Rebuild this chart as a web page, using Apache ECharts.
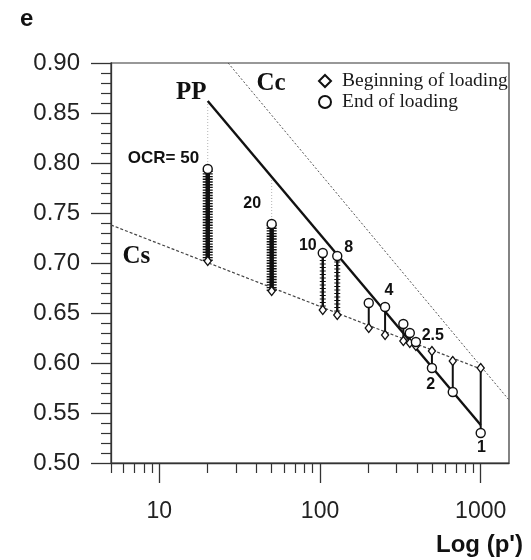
<!DOCTYPE html>
<html><head><meta charset="utf-8">
<script src="https://cdn.jsdelivr.net/npm/echarts@6/dist/echarts.min.js"></script>
<style>html,body{margin:0;padding:0;background:#fff}#c{width:531px;height:560px}</style>
</head><body><div id="c"></div>
<script>
// ---- data ----
const xTickLabels = [10, 100, 1000];
const xMinorTicks = [5, 6, 7, 8, 9, 20, 30, 40, 50, 60, 70, 80, 90, 200, 300, 400, 500, 600, 700, 800, 900];
const yTickLabels = [0.50, 0.55, 0.60, 0.65, 0.70, 0.75, 0.80, 0.85, 0.90];
const xRange = [5, 1500];
const yRange = [0.50, 0.90];

// OCR tests: p' at loading, void ratio at beginning / end of loading
const pressure     = [20,    50,    104,   128,   201,   254,   330,   362,   395,   497,   670,   1000];
const beginLoading = [0.702, 0.672, 0.653, 0.648, 0.635, 0.628, 0.622, 0.620, 0.617, 0.612, 0.602, 0.595];
const endLoading   = [0.794, 0.739, 0.710, 0.707, 0.660, 0.656, 0.639, 0.630, 0.621, 0.595, 0.571, 0.530];
const creepStyle   = ['heavy','heavy','medium','medium','plain','plain','plain','plain','plain','plain','plain','plain'];

// reference lines
const ppLineP = [20, 1000];      const ppLineE = [0.862, 0.538];
const ccLineP = [26.8, 1500];    const ccLineE = [0.900, 0.563];
const csLineP = [5, 1000];       const csLineE = [0.738, 0.594];
const guideP = [20, 50];         const guideTop = [0.862, 0.786];

// text annotations [p', e, text, kind]
const annotations = [
  [15.8, 0.870, 'PP', 'serif'],
  [49.6, 0.879, 'Cc', 'serif'],
  [7.2, 0.706, 'Cs', 'serif'],
  [10.6, 0.805, 'OCR= 50', 'sans'],
  [37.8, 0.759, '20', 'sans'],
  [84, 0.717, '10', 'sans'],
  [151, 0.715, '8', 'sans'],
  [268, 0.672, '4', 'sans'],
  [503, 0.627, '2.5', 'sans'],
  [489, 0.578, '2', 'sans'],
  [1012, 0.515, '1', 'sans']
];

// ---- build ----
const L = Math.log10;
const ink = '#111';
const series = [];
series.push({type:'line', data: csLineP.map((p,i)=>[L(p), csLineE[i]]), symbol:'none', silent:true,
  lineStyle:{color:'#444', width:1.2, type:[3,2]}, z:2});
series.push({type:'line', data: ccLineP.map((p,i)=>[L(p), ccLineE[i]]), symbol:'none', silent:true,
  lineStyle:{color:'#555', width:1, type:[2,2]}, z:2});
series.push({type:'line', data: ppLineP.map((p,i)=>[L(p), ppLineE[i]]), symbol:'none', silent:true,
  lineStyle:{color:ink, width:2.4}, z:3});
guideP.forEach((p,i)=>{
  const idx = pressure.indexOf(p);
  series.push({type:'line', data:[[L(p), guideTop[i]],[L(p), endLoading[idx]]], symbol:'none', silent:true,
    lineStyle:{color:'#b5b5b5', width:1, type:[1,2]}, z:1});
});
pressure.forEach((p,i)=>{
  const seg = [[L(p), beginLoading[i]],[L(p), endLoading[i]]];
  const st = creepStyle[i];
  series.push({type:'line', data:seg, symbol:'none', silent:true,
    lineStyle:{color:ink, width: st==='heavy'?4.5 : (st==='medium'?2.4:2)}, z:4});
  if (st !== 'plain') {
    series.push({type:'line', data:seg, symbol:'none', silent:true,
      lineStyle:{color:ink, width: st==='heavy'?10:6, type: st==='heavy'?[1.4,1.3]:[1,2.5]}, z:4});
  }
});
series.push({name:'Beginning of loading', type:'scatter', symbol:'diamond', symbolSize:[7,9],
  data: pressure.map((p,i)=>[L(p), beginLoading[i]]),
  itemStyle:{color:'#fff', borderColor:ink, borderWidth:1.4, opacity:1}, z:6});
series.push({name:'End of loading', type:'scatter', symbol:'circle', symbolSize:9,
  data: pressure.map((p,i)=>[L(p), endLoading[i]]),
  itemStyle:{color:'#fff', borderColor:ink, borderWidth:1.4, opacity:1}, z:6});
series.push({type:'scatter', symbolSize:0, silent:true, z:7, itemStyle:{opacity:1},
  data: annotations.map(a=>({value:[L(a[0]), a[1]], name:a[2],
    label:{show:true, position:'inside', formatter:a[2], color: ink, opacity:1,
      fontFamily: a[3]==='serif' ? 'Liberation Serif' : 'Liberation Sans',
      fontWeight:'bold', fontSize: a[3]==='serif' ? 25 : (a[2].length > 3 ? 17 : 16)}}))});

const option = {
  animation:false,
  backgroundColor:'#fff',
  title:{text:'e', left:15, top:2, textStyle:{fontFamily:'Liberation Sans', fontWeight:'bold', fontSize:24, color:ink}},
  legend:{orient:'vertical', left:313, top:66, itemWidth:12, itemHeight:12, itemGap:1,
    data:['Beginning of loading','End of loading'],
    textStyle:{fontFamily:'Liberation Serif', fontSize:19.5, color:'#1a1a1a', padding:[0,0,0,6]}},
  grid:{left:111, right:22, top:63, bottom:97, show:true, borderColor:'#333', borderWidth:1.2, backgroundColor:'#fff', outerBoundsMode:'none'},
  xAxis:[{
    type:'value', min:L(xRange[0]), max:L(xRange[1]), position:'bottom',
    name:"Log (p')", nameLocation:'end', nameGap:14,
    nameTextStyle:{fontFamily:'Liberation Sans', fontWeight:'bold', fontSize:24, color:ink, align:'right', verticalAlign:'top', padding:[70,0,0,0]},
    axisLine:{show:true, lineStyle:{color:'#333', width:1.3}},
    axisTick:{show:true, inside:false, length:20, customValues: xTickLabels.map(L), lineStyle:{color:'#333', width:1.3}},
    axisLabel:{show:true, customValues: xTickLabels.map(L), margin:37, formatter: v => String(Math.round(Math.pow(10, v))),
      fontFamily:'Liberation Sans', fontSize:23, color:'#222'},
    splitLine:{show:false}
  },{
    type:'value', min:L(xRange[0]), max:L(xRange[1]), position:'bottom', offset:0,
    axisLine:{show:false},
    axisTick:{show:true, inside:false, length:10, customValues: xMinorTicks.map(L), lineStyle:{color:'#333', width:1.2}},
    axisLabel:{show:false}, splitLine:{show:false}
  }],
  yAxis:{type:'value', min:yRange[0], max:yRange[1], interval:0.05,
    axisLine:{show:true, lineStyle:{color:'#333', width:1.3}},
    axisTick:{show:true, inside:false, length:20, customValues: yTickLabels, lineStyle:{color:'#333', width:1.3}},
    minorTick:{show:true, splitNumber:5, length:10, lineStyle:{color:'#333', width:1.2}},
    axisLabel:{margin:31, formatter: v => v.toFixed(2), fontFamily:'Liberation Sans', fontSize:24, color:'#222'},
    splitLine:{show:false}, minorSplitLine:{show:false}
  },
  series
};
const chart = echarts.init(document.getElementById('c'), null, {renderer:'canvas'});
chart.setOption(option);
</script></body></html>
